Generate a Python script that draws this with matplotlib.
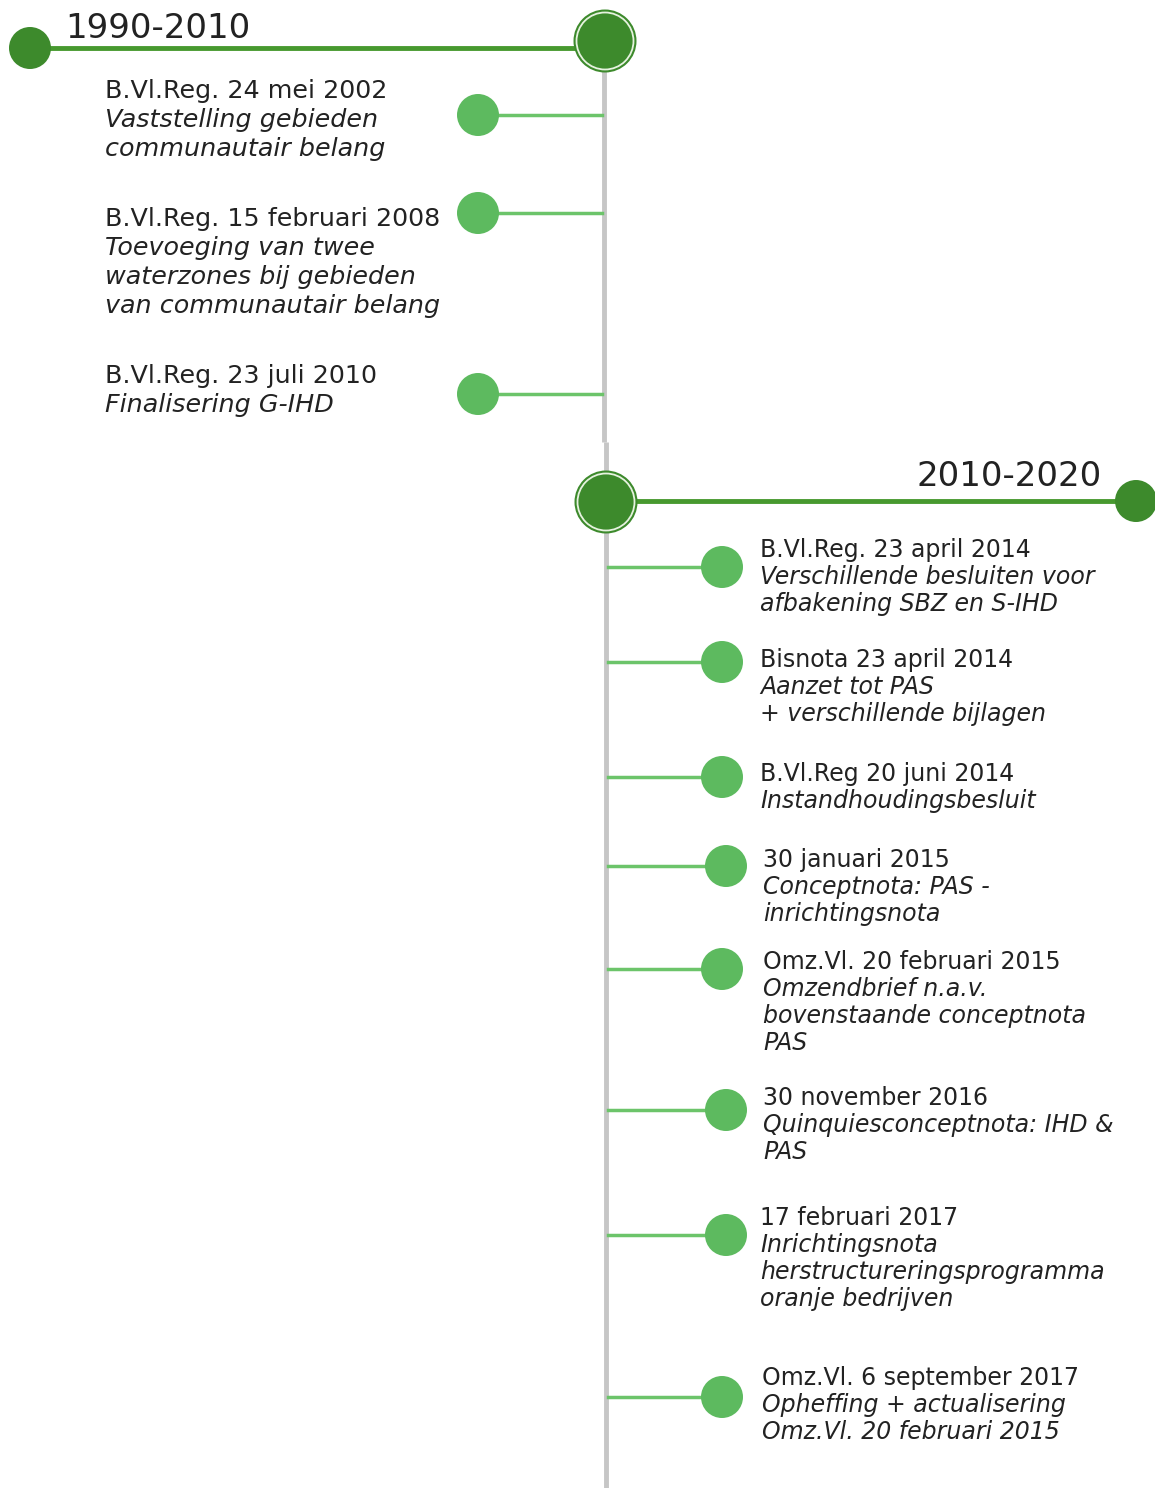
import matplotlib.pyplot as plt
from matplotlib.patches import Circle

# periods
periods = ["1990-2010", "2010-2020"]

# events per period: heading line + italic description lines
top_heads = ["B.Vl.Reg. 24 mei 2002",
             "B.Vl.Reg. 15 februari 2008",
             "B.Vl.Reg. 23 juli 2010"]
top_desc = [["Vaststelling gebieden", "communautair belang"],
            ["Toevoeging van twee", "waterzones bij gebieden", "van communautair belang"],
            ["Finalisering G-IHD"]]

bottom_heads = ["B.Vl.Reg. 23 april 2014",
                "Bisnota 23 april 2014",
                "B.Vl.Reg 20 juni 2014",
                "30 januari 2015",
                "Omz.Vl. 20 februari 2015",
                "30 november 2016",
                "17 februari 2017",
                "Omz.Vl. 6 september 2017"]
bottom_desc = [["Verschillende besluiten voor", "afbakening SBZ en S-IHD"],
               ["Aanzet tot PAS", "+ verschillende bijlagen"],
               ["Instandhoudingsbesluit"],
               ["Conceptnota: PAS -", "inrichtingsnota"],
               ["Omzendbrief n.a.v.", "bovenstaande conceptnota", "PAS"],
               ["Quinquiesconceptnota: IHD &", "PAS"],
               ["Inrichtingsnota", "herstructureringsprogramma", "oranje bedrijven"],
               ["Opheffing + actualisering", "Omz.Vl. 20 februari 2015"]]

# layout (pixel positions)
top_dot_y = [115, 213, 394]
top_text_y = [91, 219, 376]
bottom_dot_x = [722, 722, 722, 726, 722, 726, 726, 722]
bottom_dot_y = [567, 662, 777, 866, 969, 1110, 1235, 1397]
bottom_text_x = [760, 760, 760, 763, 763, 763, 760, 762]
bottom_text_y = [550, 660, 774, 860, 962, 1098, 1218, 1378]

DARK = "#3d8a2c"
LINE_DARK = "#47992f"
LIGHT = "#5dba5f"
LINE_LIGHT = "#6cc46a"
GRAY = "#c6c6c6"
TXT = "#222222"

fig = plt.figure(figsize=(11.55, 14.88), dpi=100)
ax = fig.add_axes([0, 0, 1, 1])
ax.set_xlim(0, 1155)
ax.set_ylim(1488, 0)
ax.axis("off")

# vertical spine
ax.plot([604, 604], [41, 442], color=GRAY, lw=3.5, solid_capstyle="butt", zorder=1)
ax.plot([606, 606], [442, 1488], color=GRAY, lw=3.5, solid_capstyle="butt", zorder=1)


def big_dot(x, y):
    ax.add_patch(Circle((x, y), 31.5, facecolor=DARK, edgecolor="none", zorder=4))
    ax.add_patch(Circle((x, y), 28.5, facecolor="none", edgecolor="#e6f2df", lw=1.3, zorder=5))


# period 1 header
ax.plot([30, 605], [48, 48], color=LINE_DARK, lw=3.5, zorder=2)
ax.add_patch(Circle((30, 48), 21, facecolor=DARK, edgecolor="none", zorder=4))
big_dot(605, 41)
ax.text(65, 28, periods[0], fontsize=24.5, color=TXT, va="center", ha="left")

# period 2 header
ax.plot([606, 1136], [501, 501], color=LINE_DARK, lw=3.5, zorder=2)
ax.add_patch(Circle((1136, 501), 21, facecolor=DARK, edgecolor="none", zorder=4))
big_dot(606, 502)
ax.text(1102, 476, periods[1], fontsize=24.5, color=TXT, va="center", ha="right")

# period 1 events
for head, desc, dy, ty in zip(top_heads, top_desc, top_dot_y, top_text_y):
    ax.plot([478, 602], [dy, dy], color=LINE_LIGHT, lw=2.5, zorder=2)
    ax.add_patch(Circle((478, dy), 21, facecolor=LIGHT, edgecolor="none", zorder=4))
    ax.text(105, ty, head, fontsize=18.3, color=TXT, va="center", ha="left")
    for i, line in enumerate(desc):
        ax.text(105, ty + 29 * (i + 1), line, fontsize=18.3, style="italic",
                color=TXT, va="center", ha="left")

# period 2 events
for head, desc, dx, dy, tx, ty in zip(bottom_heads, bottom_desc, bottom_dot_x,
                                      bottom_dot_y, bottom_text_x, bottom_text_y):
    ax.plot([608, dx], [dy, dy], color=LINE_LIGHT, lw=2.5, zorder=2)
    ax.add_patch(Circle((dx, dy), 21, facecolor=LIGHT, edgecolor="none", zorder=4))
    ax.text(tx, ty, head, fontsize=17, color=TXT, va="center", ha="left")
    for i, line in enumerate(desc):
        ax.text(tx, ty + 27 * (i + 1), line, fontsize=17, style="italic",
                color=TXT, va="center", ha="left")

fig.savefig("out.png", dpi=100)
